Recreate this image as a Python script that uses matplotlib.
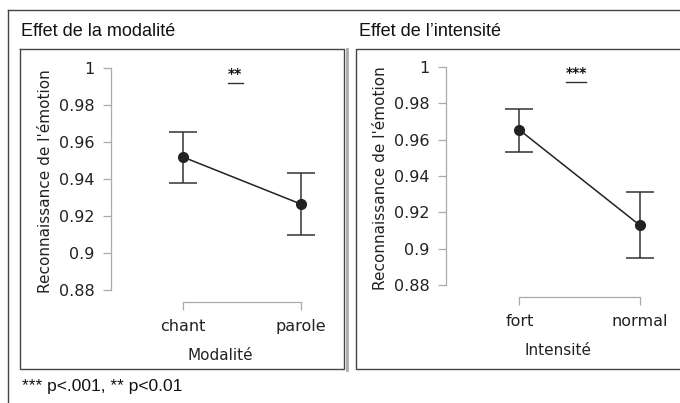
import matplotlib
matplotlib.use("Agg")
import matplotlib.pyplot as plt
from matplotlib.lines import Line2D

# data
mod_labels = ["chant", "parole"]
mod_mean = [0.9519, 0.9265]
mod_low = [0.9380, 0.9099]
mod_high = [0.9656, 0.9431]

int_labels = ["fort", "normal"]
int_mean = [0.9653, 0.9129]
int_low = [0.9530, 0.8948]
int_high = [0.9770, 0.9310]

yticks = [0.88, 0.9, 0.92, 0.94, 0.96, 0.98, 1]
ytick_labels = ["0.88", "0.9", "0.92", "0.94", "0.96", "0.98", "1"]

W, H = 680, 403
fig = plt.figure(figsize=(W / 100, H / 100), dpi=100)

def fx(x):
    return x / W

def fy(y):
    return 1 - y / H

def frame_line(xs, ys, color="#444444", lw=1.0):
    fig.add_artist(Line2D([fx(x) for x in xs], [fy(y) for y in ys],
                          transform=fig.transFigure, color=color, lw=lw))

# table-like frame
frame_line([8, 680], [10, 10])
frame_line([8, 8], [10, 403])
frame_line([20, 344, 344, 20, 20], [49, 49, 369, 369, 49])
frame_line([680, 356, 356, 680], [49, 49, 369, 369])
frame_line([347, 347], [49, 370], color="#aaaaaa", lw=2.0)

title_font = "Liberation Sans"
fig.text(fx(21), fy(31), "Effet de la modalité", fontsize=13, family=title_font,
         va="center", ha="left", color="#111111")
fig.text(fx(359), fy(31), "Effet de l\u2019intensité", fontsize=13, family=title_font,
         va="center", ha="left", color="#111111")
fig.text(fx(22), fy(387), "*** p<.001, ** p<0.01", fontsize=12.5, family=title_font,
         va="center", ha="left", color="#111111")

def panel(rect, labels, mean, low, high, xlab, stars, star_x, bar_x):
    left, right, top, bottom = rect
    ax = fig.add_axes([fx(left), fy(bottom), fx(right - left), (bottom - top) / H])
    ax.set_facecolor("none")
    x = list(range(len(labels)))
    yerr = [[m - l for m, l in zip(mean, low)], [h - m for m, h in zip(mean, high)]]
    ax.errorbar(x, mean, yerr=yerr, fmt="o-", color="#222222", ecolor="#333333",
                markersize=7, lw=1.1, elinewidth=1.1, capsize=10, capthick=1.1,
                clip_on=False)
    ax.set_xlim(-0.61, 1.25)
    ax.set_ylim(0.8735, 1.0043)
    for s in ["top", "right"]:
        ax.spines[s].set_visible(False)
    for s in ["left", "bottom"]:
        ax.spines[s].set_color("#aaaaaa")
        ax.spines[s].set_linewidth(0.9)
    ax.spines["left"].set_bounds(0.88, 1)
    ax.spines["bottom"].set_bounds(0, 1)
    ax.set_yticks(yticks)
    ax.set_yticklabels(ytick_labels)
    ax.set_xticks(x)
    ax.set_xticklabels(labels)
    ax.tick_params(axis="both", colors="#aaaaaa", labelcolor="#222222",
                   labelsize=11.5, length=6, width=0.9, pad=6)
    ax.set_ylabel("Reconnaissance de l'émotion", fontsize=11, color="#222222", labelpad=4)
    ax.set_xlabel(xlab, fontsize=11, color="#222222", labelpad=10)
    ax.text(star_x, 0.9965, stars, ha="center", va="center", fontsize=10,
            fontweight="bold", color="#111111")
    ax.plot(bar_x, [0.9917, 0.9917], color="#333333", lw=1.0, clip_on=False)
    return ax

panel((111, 330, 60, 302), mod_labels, mod_mean, mod_low, mod_high,
      "Modalité", "**", 0.44, [0.38, 0.51])
panel((446, 670, 59, 297), int_labels, int_mean, int_low, int_high,
      "Intensité", "***", 0.47, [0.39, 0.55])

fig.savefig("out.png", dpi=100)
